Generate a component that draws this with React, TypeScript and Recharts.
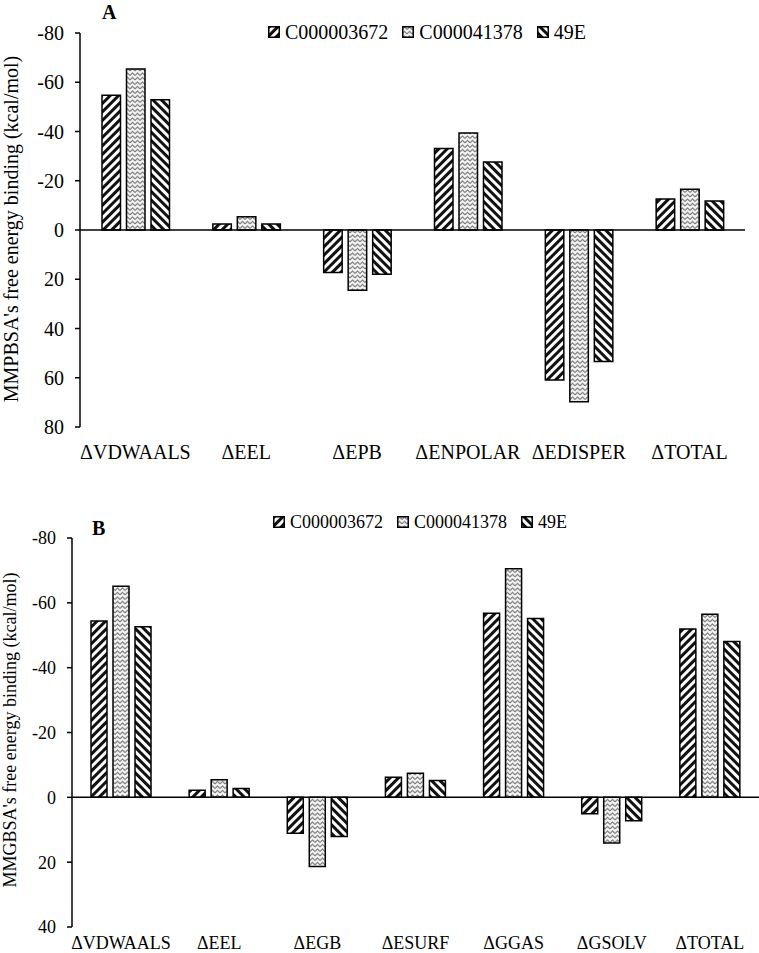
import React from 'react';
import { BarChart, Bar, XAxis, YAxis, ReferenceLine } from 'recharts';

// series and data (kcal/mol, negative = favourable)
const seriesNames = ['C000003672', 'C000041378', '49E'];
const seriesFills = ['url(#hatchFwd)', 'url(#zigzag)', 'url(#hatchBack)'];

const categoriesA = ['ΔVDWAALS', 'ΔEEL', 'ΔEPB', 'ΔENPOLAR', 'ΔEDISPER', 'ΔTOTAL'];
const c3672A = [-54.7, -2.4, 17.3, -33.1, 60.9, -12.6];
const c41378A = [-65.4, -5.4, 24.5, -39.4, 69.7, -16.5];
const e49A = [-52.9, -2.4, 18.0, -27.6, 53.4, -11.8];
const ticksA = [-80, -60, -40, -20, 0, 20, 40, 60, 80];

const categoriesB = ['ΔVDWAALS', 'ΔEEL', 'ΔEGB', 'ΔESURF', 'ΔGGAS', 'ΔGSOLV', 'ΔTOTAL'];
const c3672B = [-54.4, -2.2, 11.1, -6.2, -56.8, 5.1, -51.9];
const c41378B = [-65.1, -5.4, 21.3, -7.4, -70.5, 14.1, -56.5];
const e49B = [-52.6, -2.7, 12.1, -5.2, -55.2, 7.2, -48.1];
const ticksB = [-80, -60, -40, -20, 0, 20, 40];

const font = "'Liberation Serif', 'Times New Roman', serif";

const buildRows = (cats: string[], a: number[], b: number[], c: number[]) =>
  cats.map((name, i) => ({ name, s0: a[i], s1: b[i], s2: c[i] }));

const rowsA = buildRows(categoriesA, c3672A, c41378A, e49A);
const rowsB = buildRows(categoriesB, c3672B, c41378B, e49B);

const Patterns = () => (
  <svg width={0} height={0} style={{ position: 'absolute' }}>
    <defs>
      <pattern id="hatchFwd" patternUnits="userSpaceOnUse" width={6} height={6} patternTransform="rotate(45)">
        <rect width={6} height={6} fill="#fff" />
        <rect width={3} height={6} fill="#111" />
      </pattern>
      <pattern id="hatchBack" patternUnits="userSpaceOnUse" width={6} height={6} patternTransform="rotate(-45)">
        <rect width={6} height={6} fill="#fff" />
        <rect width={3} height={6} fill="#111" />
      </pattern>
      <pattern id="zigzag" patternUnits="userSpaceOnUse" width={5} height={4.5}>
        <rect width={5} height={4.5} fill="#f4f4f4" />
        <path d="M0 3.5 L2.5 1 L5 3.5" fill="none" stroke="#6e6e6e" strokeWidth={1} />
      </pattern>
    </defs>
  </svg>
);

const LegendRow = ({ left, top, fontSize }: { left: number; top: number; fontSize: number }) => (
  <div style={{ position: 'absolute', left, top, display: 'flex', alignItems: 'center', fontSize, lineHeight: 1 }}>
    {seriesNames.map((n, i) => (
      <div key={n} style={{ display: 'flex', alignItems: 'center', marginRight: 14 }}>
        <svg width={12} height={12} style={{ marginRight: 5 }}>
          <rect x={0.75} y={0.75} width={10.5} height={10.5} fill={seriesFills[i]} stroke="#000" strokeWidth={1.5} />
        </svg>
        <span>{n}</span>
      </div>
    ))}
  </div>
);

const YTitle = ({ text, cx, cy, fontSize }: { text: string; cx: number; cy: number; fontSize: number }) => (
  <div
    style={{
      position: 'absolute',
      left: cx - 250,
      top: cy - fontSize / 2,
      width: 500,
      height: fontSize,
      lineHeight: `${fontSize}px`,
      fontSize,
      textAlign: 'center',
      transform: 'rotate(-90deg)',
      whiteSpace: 'nowrap',
    }}
  >
    {text}
  </div>
);

const Panel = ({ rows, ticks, domain, width, height, margin, yWidth, xHeight, tickMargin, fontSize, barSize, barGap }: any) => (
  <BarChart width={width} height={height} data={rows} margin={margin} barGap={barGap}>
    <XAxis
      dataKey="name"
      axisLine={false}
      tickLine={false}
      interval={0}
      height={xHeight}
      tickMargin={tickMargin}
      tick={{ fill: '#000', fontSize, fontFamily: font }}
    />
    <YAxis
      type="number"
      reversed
      domain={domain}
      ticks={ticks}
      width={yWidth}
      interval={0}
      axisLine={{ stroke: '#000', strokeWidth: 1.5 }}
      tickLine={{ stroke: '#000', strokeWidth: 1.5 }}
      tickSize={5}
      tickMargin={11}
      tick={{ fill: '#000', fontSize, fontFamily: font }}
    />
    <ReferenceLine y={0} stroke="#000" strokeWidth={1.5} />
    {seriesNames.map((n, i) => (
      <Bar
        key={n}
        dataKey={`s${i}`}
        name={n}
        fill={seriesFills[i]}
        stroke="#000"
        strokeWidth={1.5}
        barSize={barSize}
        isAnimationActive={false}
      />
    ))}
  </BarChart>
);

export default function App() {
  return (
    <div style={{ position: 'absolute', left: 0, top: 0, width: 759, height: 953, background: '#fff', fontFamily: font, color: '#000', overflow: 'hidden' }}>
      <Patterns />

      {/* Panel A: MMPBSA */}
      <div style={{ position: 'absolute', left: 0, top: 0 }}>
        <Panel
          rows={rowsA}
          ticks={ticksA}
          domain={[-80, 80]}
          width={759}
          height={470}
          margin={{ top: 33, right: 14, bottom: 0, left: 0 }}
          yWidth={80}
          xHeight={43}
          tickMargin={12}
          fontSize={20}
          barSize={18.5}
          barGap={6}
        />
      </div>
      <div style={{ position: 'absolute', left: 102, top: 1, fontSize: 20, fontWeight: 'bold', lineHeight: '22px' }}>A</div>
      <LegendRow left={268} top={22} fontSize={20} />
      <YTitle text="MMPBSA's free energy binding (kcal/mol)" cx={11} cy={229} fontSize={20} />

      {/* Panel B: MMGBSA */}
      <div style={{ position: 'absolute', left: 0, top: 470 }}>
        <Panel
          rows={rowsB}
          ticks={ticksB}
          domain={[-80, 40]}
          width={759}
          height={483}
          margin={{ top: 68, right: 0, bottom: 0, left: 0 }}
          yWidth={72}
          xHeight={26}
          tickMargin={3}
          fontSize={18}
          barSize={16}
          barGap={6}
        />
      </div>
      <div style={{ position: 'absolute', left: 92, top: 517, fontSize: 20, fontWeight: 'bold', lineHeight: '22px' }}>B</div>
      <LegendRow left={273} top={513} fontSize={18} />
      <YTitle text="MMGBSA's free energy binding (kcal/mol)" cx={10} cy={730} fontSize={18} />
    </div>
  );
}
